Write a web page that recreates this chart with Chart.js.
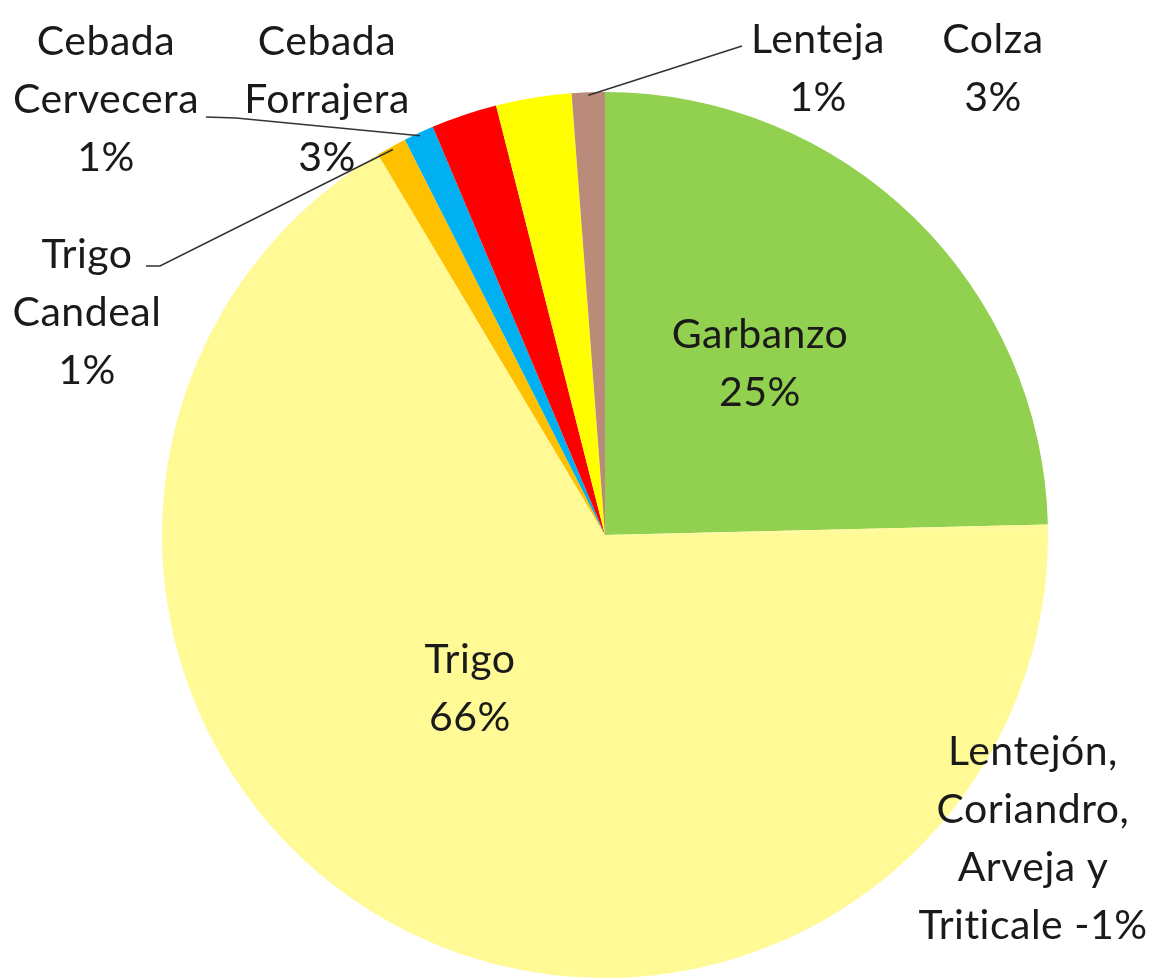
<!DOCTYPE html>
<html>
<head>
<meta charset="utf-8">
<script src="https://cdn.jsdelivr.net/npm/chart.js@4.4.0/dist/chart.umd.min.js"></script>
<style>
  html, body { margin: 0; padding: 0; background: #fff; }
  #pie { display: block; }
</style>
</head>
<body>
<canvas id="pie" width="1167" height="979"></canvas>
<script>
// slices, clockwise from 12 o'clock
const cultivos = ['Garbanzo', 'Lentejón, Coriandro, Arveja y Triticale', 'Trigo', 'Trigo Candeal',
    'Cebada Cervecera', 'Cebada Forrajera', 'Colza', 'Lenteja'];
const porcentajes = [24.6, 0.15, 66.6, 1.1, 1.1, 2.4, 2.75, 1.2];
const colores = ['#92D050', '#FFFA96', '#FFFA96', '#FFC000', '#00B0F0', '#FF0000', '#FFFF00', '#BA8A7A'];

// label text as printed on the chart
const etiquetas = [
    ['Garbanzo', '25%'],
    ['Lentejón,', 'Coriandro,', 'Arveja y', 'Triticale -1%'],
    ['Trigo', '66%'],
    ['Trigo', 'Candeal', '1%'],
    ['Cebada', 'Cervecera', '1%'],
    ['Cebada', 'Forrajera', '3%'],
    ['Colza', '3%'],
    ['Lenteja', '1%']
];

// where each label block sits (center x, first line center y) and leader line start
const posEtiquetas = [
    { x: 760, y: 335 },
    { x: 1033, y: 752 },
    { x: 470, y: 660 },
    { x: 87, y: 255, linea: [[146, 266], [160, 266]] },
    { x: 106, y: 42, linea: [[206, 117], [236, 118]] },
    { x: 327, y: 42 },
    { x: 993, y: 40 },
    { x: 818, y: 40, linea: [[742, 46]] }
];

const lineHeight = 58;

const labelPlugin = {
    id: 'etiquetas',
    afterDraw(chart) {
        const ctx = chart.ctx;
        const arcs = chart.getDatasetMeta(0).data;
        ctx.save();
        ctx.strokeStyle = '#333';
        ctx.lineWidth = 1.6;
        posEtiquetas.forEach((p, i) => {
            if (!p.linea) return;
            const arc = arcs[i];
            const mid = (arc.startAngle + arc.endAngle) / 2;
            const r = arc.outerRadius - 3;
            ctx.beginPath();
            ctx.moveTo(p.linea[0][0], p.linea[0][1]);
            p.linea.slice(1).forEach(pt => ctx.lineTo(pt[0], pt[1]));
            ctx.lineTo(arc.x + Math.cos(mid) * r, arc.y + Math.sin(mid) * r);
            ctx.stroke();
        });
        ctx.font = '41px Lato, "Open Sans", sans-serif';
        ctx.letterSpacing = '0.5px'; // also stops the "ti" ligature
        ctx.fillStyle = '#1a1a1a';
        ctx.textAlign = 'center';
        ctx.textBaseline = 'middle';
        etiquetas.forEach((lines, i) => {
            const p = posEtiquetas[i];
            lines.forEach((t, k) => ctx.fillText(t, p.x, p.y + k * lineHeight));
        });
        ctx.restore();
    }
};

new Chart(document.getElementById('pie'), {
    type: 'pie',
    data: {
        labels: cultivos,
        datasets: [{
            data: porcentajes,
            backgroundColor: colores,
            borderWidth: 0,
            hoverOffset: 0
        }]
    },
    options: {
        responsive: false,
        animation: false,
        layout: { padding: { left: 162, right: 119, top: 92, bottom: 1 } },
        plugins: {
            legend: { display: false },
            tooltip: { enabled: false }
        }
    },
    plugins: [labelPlugin]
});
</script>
</body>
</html>
